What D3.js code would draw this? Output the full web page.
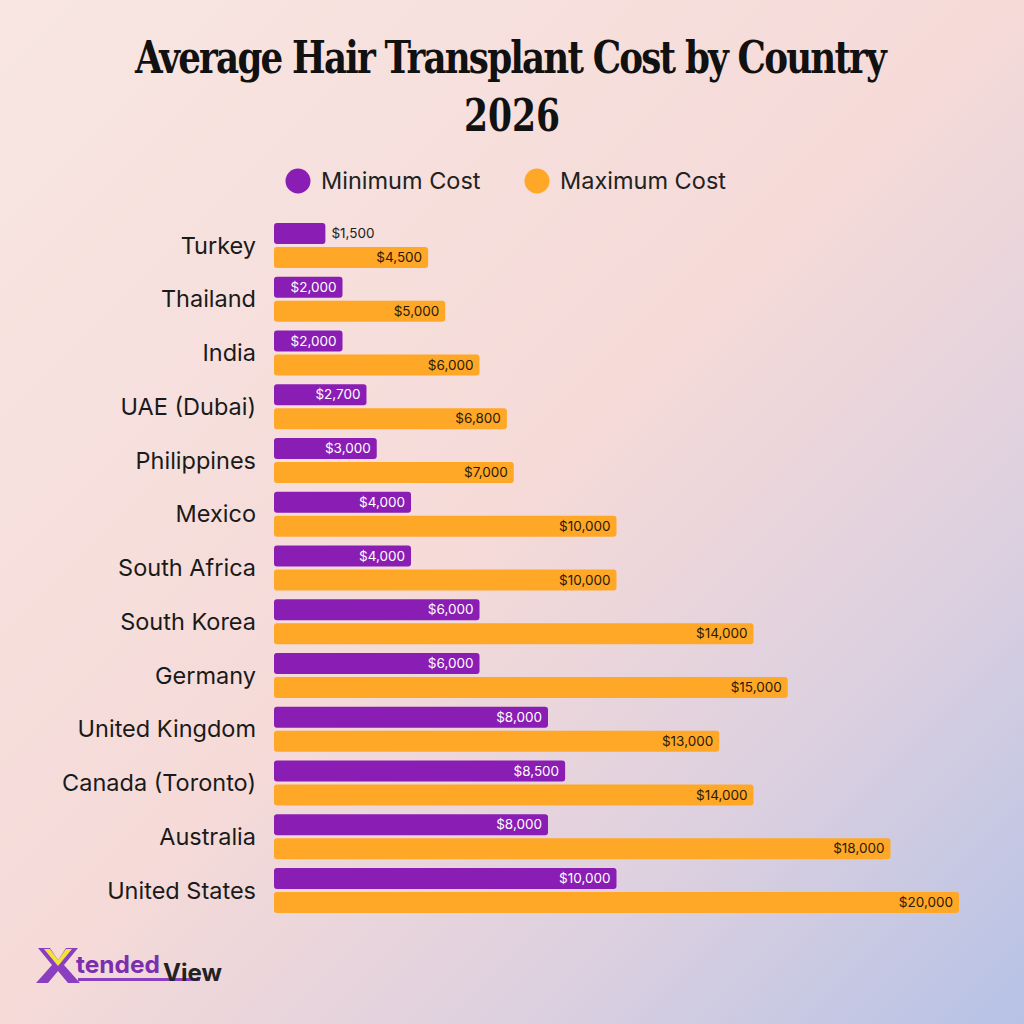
<!DOCTYPE html>
<html>
<head>
<meta charset="utf-8">
<script src="https://cdn.jsdelivr.net/npm/d3@7"></script>
<style>
  html, body { margin: 0; padding: 0; }
  svg { display: block; }
</style>
</head>
<body>
<main></main>
<script>
const countries = ["Turkey", "Thailand", "India", "UAE (Dubai)", "Philippines", "Mexico", "South Africa",
  "South Korea", "Germany", "United Kingdom", "Canada (Toronto)", "Australia", "United States"]
const minCost = [1500, 2000, 2000, 2700, 3000, 4000, 4000, 6000, 6000, 8000, 8500, 8000, 10000]
const maxCost = [4500, 5000, 6000, 6800, 7000, 10000, 10000, 14000, 15000, 13000, 14000, 18000, 20000]
const seriesNames = ["Minimum Cost", "Maximum Cost"]

const w = 1024
const h = 1024
const purple = "#8A1DB3"
const orange = "#FFA726"

const svg = d3.select("main").append("svg").attr("width", w).attr("height", h)

// background gradient
const defs = svg.append("defs")
const grad = defs.append("linearGradient").attr("id", "bg")
  .attr("x1", "0%").attr("y1", "0%").attr("x2", "100%").attr("y2", "100%")
grad.append("stop").attr("offset", "0%").attr("stop-color", "#F8E6E2")
grad.append("stop").attr("offset", "50%").attr("stop-color", "#F5DAD8")
grad.append("stop").attr("offset", "75%").attr("stop-color", "#DDD0DF")
grad.append("stop").attr("offset", "100%").attr("stop-color", "#B6C2E6")
svg.append("rect").attr("width", w).attr("height", h).attr("fill", "url(#bg)")

// title
const title = svg.append("g")
  .attr("font-family", "'DejaVu Serif Condensed', 'DejaVu Serif', serif")
  .attr("font-weight", "bold")
  .attr("fill", "#111")
  .attr("text-anchor", "middle")
title.append("text").attr("x", 510).attr("y", 73).attr("font-size", 44)
  .attr("textLength", 750).attr("lengthAdjust", "spacingAndGlyphs")
  .attr("letter-spacing", -2)
  .text("Average Hair Transplant Cost by Country")
title.append("text").attr("x", 512).attr("y", 131).attr("font-size", 44)
  .attr("textLength", 96).attr("lengthAdjust", "spacingAndGlyphs")
  .text("2026")

// legend
const legend = svg.append("g").attr("font-family", "Inter, 'Noto Sans', sans-serif")
const legendX = [298, 537]
seriesNames.forEach((name, i) => {
  legend.append("circle").attr("cx", legendX[i]).attr("cy", 181).attr("r", 12.5)
    .attr("fill", i === 0 ? purple : orange)
  legend.append("text").attr("x", legendX[i] + 23).attr("y", 189)
    .attr("font-size", 23.5).attr("fill", "#222").text(name)
})

// scales
const x = d3.scaleLinear().domain([0, 20000]).range([274, 959])
const y = d3.scaleBand().domain(countries).range([218.6, 917.4]).paddingInner(0).paddingOuter(0)
const barH = 21
const gap = 3
const rows = countries.map((c, i) => ({ c, min: minCost[i], max: maxCost[i] }))

const fmt = (v) => "$" + d3.format(",")(v)
const rowTop = (d) => y(d.c) + (y.bandwidth() - (barH * 2 + gap)) / 2

const g = svg.append("g").attr("font-family", "Inter, 'Noto Sans', sans-serif")

// country labels
g.selectAll(".label").data(rows).enter().append("text")
  .attr("class", "label")
  .attr("x", 256)
  .attr("y", (d) => rowTop(d) + barH + gap / 2)
  .attr("dy", "0.35em")
  .attr("text-anchor", "end")
  .attr("font-size", 23.5)
  .attr("fill", "#1a1a1a")
  .text((d) => d.c)

// min bars
g.selectAll(".min").data(rows).enter().append("rect")
  .attr("class", "min")
  .attr("x", x(0))
  .attr("y", (d) => rowTop(d))
  .attr("width", (d) => x(d.min) - x(0))
  .attr("height", barH)
  .attr("rx", 3)
  .attr("fill", purple)

// max bars
g.selectAll(".max").data(rows).enter().append("rect")
  .attr("class", "max")
  .attr("x", x(0))
  .attr("y", (d) => rowTop(d) + barH + gap)
  .attr("width", (d) => x(d.max) - x(0))
  .attr("height", barH)
  .attr("rx", 3)
  .attr("fill", orange)

// value labels
g.selectAll(".minval").data(rows).enter().append("text")
  .attr("class", "minval")
  .attr("x", (d) => d.min < 2000 ? x(d.min) + 6 : x(d.min) - 6)
  .attr("y", (d) => rowTop(d) + barH / 2)
  .attr("dy", "0.35em")
  .attr("text-anchor", (d) => d.min < 2000 ? "start" : "end")
  .attr("font-size", 13.5)
  .attr("fill", (d) => d.min < 2000 ? "#222" : "#fff")
  .text((d) => fmt(d.min))

g.selectAll(".maxval").data(rows).enter().append("text")
  .attr("class", "maxval")
  .attr("x", (d) => x(d.max) - 6)
  .attr("y", (d) => rowTop(d) + barH + gap + barH / 2)
  .attr("dy", "0.35em")
  .attr("text-anchor", "end")
  .attr("font-size", 13.5)
  .attr("fill", "#2a1a0a")
  .text((d) => fmt(d.max))

// logo
const logo = svg.append("g").attr("transform", "translate(38, 948)")
logo.append("path").attr("d", "M0,0 L12,0 L20,12 L28,0 L40,0 L26,17 L42,35 L30,35 L20,23 L10,35 L-2,35 L14,17 Z")
  .attr("fill", "#8A3FC0")
logo.append("path").attr("d", "M6,1 L12,1 L20,12 L28,1 L34,1 L20,18 Z").attr("fill", "#F2E33A")
logo.append("rect").attr("x", 40).attr("y", 30).attr("width", 122).attr("height", 3).attr("fill", "#8A3FC0")
logo.append("text").attr("x", 38).attr("y", 25)
  .attr("font-family", "Inter, 'DejaVu Sans', sans-serif").attr("font-weight", "bold")
  .attr("font-size", 24).attr("fill", "#7B2FB0")
  .attr("textLength", 84).attr("lengthAdjust", "spacingAndGlyphs").text("tended")
logo.append("text").attr("x", 125).attr("y", 33)
  .attr("font-family", "Inter, 'DejaVu Sans', sans-serif").attr("font-weight", "bold")
  .attr("font-size", 24).attr("fill", "#222")
  .attr("textLength", 59).attr("lengthAdjust", "spacingAndGlyphs").text("View")
</script>
</body>
</html>
